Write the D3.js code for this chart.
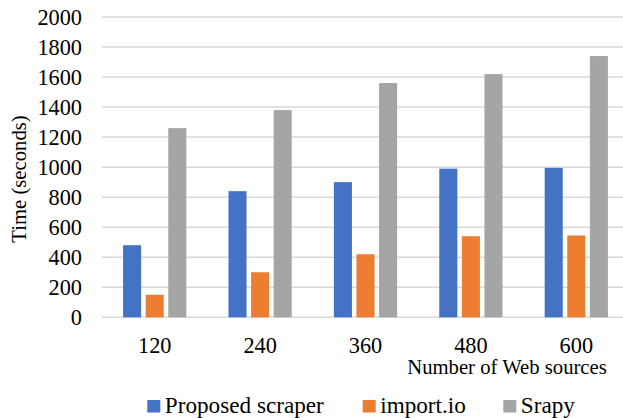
<!DOCTYPE html>
<html>
<head>
<meta charset="utf-8">
<script src="https://cdn.jsdelivr.net/npm/d3@7"></script>
<style>
  html, body { margin: 0; padding: 0; background: #fff; }
  svg { display: block; }
  svg text { font-family: "Liberation Serif", "Times New Roman", Times, serif !important; fill: #000; }
</style>
</head>
<body>
<svg id="chart" width="623" height="418"></svg>
<script>
// Crawl time per number of web sources
const categories = ["120", "240", "360", "480", "600"];
const seriesNames = ["Proposed scraper", "import.io", "Srapy"];
const proposedScraper = [480, 840, 900, 990, 995];
const importIo = [150, 300, 420, 540, 545];
const srapy = [1260, 1380, 1560, 1620, 1740];
const yTicks = [0, 200, 400, 600, 800, 1000, 1200, 1400, 1600, 1800, 2000];
const colors = ["#4472C4", "#ED7D31", "#A5A5A5"];

const series = [proposedScraper, importIo, srapy];
const svg = d3.select("#chart");

const x0 = d3.scaleBand().domain(categories).range([102, 629]).paddingInner(0).paddingOuter(0);
const x1 = d3.scaleBand().domain(seriesNames).range([x0.bandwidth() * 0.2, x0.bandwidth() * 0.8]).paddingInner(0.2);
const y = d3.scaleLinear().domain([0, 2000]).range([317.3, 17]);

// gridlines
svg.append("g")
  .selectAll("line")
  .data(yTicks)
  .join("line")
  .attr("x1", 102).attr("x2", 623)
  .attr("y1", d => y(d)).attr("y2", d => y(d))
  .attr("stroke", "#D9D9D9").attr("stroke-width", 1.5);

// y tick labels
const yAxis = d3.axisLeft(y).tickValues(yTicks).tickFormat(d3.format("d")).tickSize(0).tickPadding(0);
const gy = svg.append("g").attr("transform", "translate(82,0)").call(yAxis);
gy.attr("font-family", null).attr("font-size", null);
gy.select(".domain").remove();
gy.selectAll("text")
  .style("font-size", "22.3px")
  .attr("dy", "0.33em");

// bars
const groups = svg.append("g")
  .selectAll("g")
  .data(categories)
  .join("g")
  .attr("transform", d => `translate(${x0(d)},0)`);

groups.selectAll("rect")
  .data((d, i) => seriesNames.map((s, j) => ({ s, v: series[j][i], c: colors[j] })))
  .join("rect")
  .attr("x", d => x1(d.s))
  .attr("width", x1.bandwidth())
  .attr("y", d => y(d.v))
  .attr("height", d => y(0) - y(d.v))
  .attr("fill", d => d.c);

// x tick labels
const xAxis = d3.axisBottom(x0).tickSize(0).tickPadding(0);
const gx = svg.append("g").attr("transform", "translate(0,353)").call(xAxis);
gx.attr("font-family", null).attr("font-size", null);
gx.select(".domain").remove();
gx.selectAll("text")
  .style("font-size", "22.3px")
  .attr("dy", 0)
  .attr("y", 0);

// axis titles
svg.append("text")
  .attr("x", 507).attr("y", 374)
  .attr("text-anchor", "middle")
  .style("font-size", "20.7px")
  .text("Number of Web sources");

svg.append("text")
  .attr("transform", "translate(26,179) rotate(-90)")
  .attr("text-anchor", "middle")
  .style("font-size", "20.7px")
  .text("Time (seconds)");

// legend
const legendX = [147.3, 362.7, 503.3];
const legend = svg.append("g")
  .selectAll("g")
  .data(seriesNames)
  .join("g")
  .attr("transform", (d, i) => `translate(${legendX[i]},0)`);
legend.append("rect")
  .attr("x", 0).attr("y", 400)
  .attr("width", 13).attr("height", 12.5)
  .attr("fill", (d, i) => colors[i]);
legend.append("text")
  .attr("x", 17.5).attr("y", 413)
  .style("font-size", "23.2px")
  .text(d => d);
</script>
</body>
</html>
